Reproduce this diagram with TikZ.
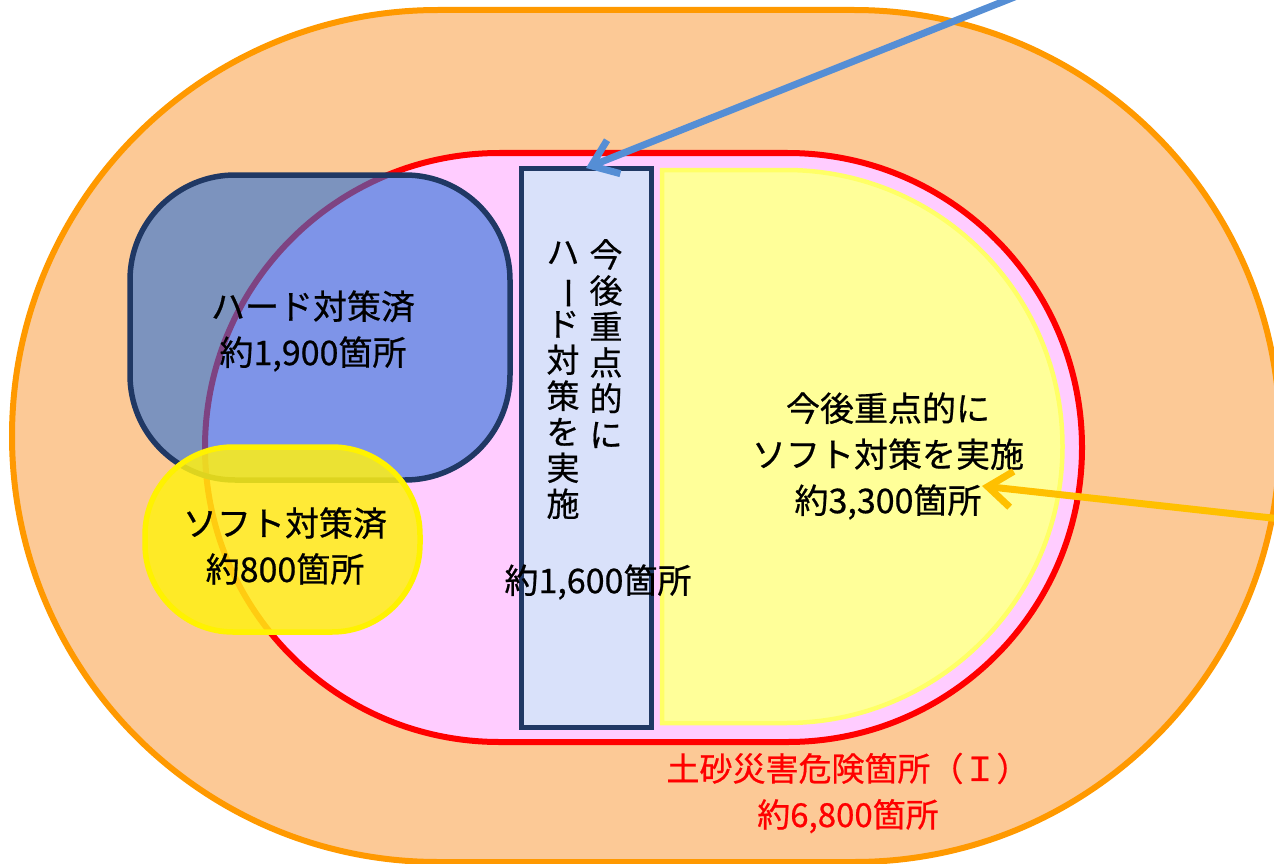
\documentclass[tikz,border=0pt]{standalone}
\usepackage{fontspec}
\setmainfont{Noto Sans CJK JP}[FakeBold=0.6]
\usepackage{graphicx}
\usetikzlibrary{arrows.meta}
\definecolor{peach}{HTML}{FCC996}
\definecolor{orangeline}{HTML}{FF9900}
\definecolor{pinkfill}{HTML}{FFCCFF}
\definecolor{redline}{HTML}{FF0000}
\definecolor{navy}{HTML}{203864}
\definecolor{paleblue}{HTML}{D9E1FA}
\definecolor{softyellow}{HTML}{FFFF99}
\definecolor{softyellowline}{HTML}{FFFF66}
\definecolor{hardblue}{RGB}{40,112,218}
\definecolor{brightyellow}{RGB}{255,240,20}
\definecolor{arrowblue}{HTML}{558ED5}
\definecolor{arrowgold}{HTML}{FFC000}
\tikzset{
  region/.style={rectangle, inner sep=0pt, outer sep=0pt},
  txt/.style={inner sep=0pt, align=center, font=\fontsize{34pt}{46pt}\selectfont},
  redtxt/.style={inner sep=0pt, align=center, text=redline, font=\fontsize{33pt}{46pt}\selectfont},
  vtxt/.style={inner sep=0pt, align=center, anchor=north, font=\fontsize{33pt}{36pt}\selectfont},
  callout/.style={line width=7pt, line cap=round, -{Straight Barb[length=24pt,width=36pt,line width=7pt]}},
}
\newcommand{\vbar}{\rotatebox[origin=c]{-90}{ー}}
\begin{document}
\begin{tikzpicture}[x=1pt,y=-1pt]
\useasboundingbox (0,0) rectangle (1274,864);
% outer orange region
\node[region, draw=orangeline, fill=peach, line width=6pt, rounded corners=426pt,
      minimum width=1268pt, minimum height=852pt] (outer) at (646,436) {};
% red region
\node[region, draw=redline, fill=pinkfill, line width=6pt, rounded corners=294.5pt,
      minimum width=877pt, minimum height=589pt] (danger) at (643.5,447.5) {};
% vertical hard rectangle
\node[region, draw=navy, fill=paleblue, line width=5pt,
      minimum width=130pt, minimum height=559pt] (hardrect) at (586,447.5) {};
% soft D shape
\draw[fill=softyellow, draw=softyellowline, line width=4.5pt]
  (662,170) -- (786,170) arc[start angle=90, end angle=-90, radius=276.5pt] -- (662,723) -- cycle;
\coordinate (dshape) at (862,446.5);
% hard done box
\node[region, draw=navy, fill=hardblue, fill opacity=0.6, line width=5.5pt, rounded corners=105pt,
      minimum width=380pt, minimum height=305pt] (harddone) at (320,327.5) {};
% soft done box
\node[region, draw=yellow, fill=brightyellow, fill opacity=0.85, line width=5.5pt, rounded corners=88pt,
      minimum width=275pt, minimum height=185pt] (softdone) at (282.5,539.5) {};
% texts
\node[txt] (hardtxt) at (313,331) {ハード対策済\\約1,900箇所};
\node[txt] (softtxt) at (285,546) {ソフト対策済\\約800箇所};
\node[vtxt] (vcolR) at (606,239) {今\\後\\重\\点\\的\\に};
\node[vtxt] (vcolL) at (563,241) {ハ\\\vbar\\ド\\対\\策\\を\\実\\施};
\node[txt] (hardnum) at (598,582) {約1,600箇所};
\node[txt] (softplan) at (888,456) {今後重点的に\\ソフト対策を実施\\約3,300箇所};
\node[redtxt] (dangertxt) at (848,793) {土砂災害危険箇所（Ｉ）\\約6,800箇所};
% callout arrows
\coordinate (bstart) at (1022,-6);
\coordinate (gstart) at (1290,520);
\coordinate (gtip) at (982,486);
\draw[callout, draw=arrowblue] (bstart) -- (hardrect.north);
\draw[callout, draw=arrowgold] (gstart) -- (gtip);
\end{tikzpicture}
\end{document}
